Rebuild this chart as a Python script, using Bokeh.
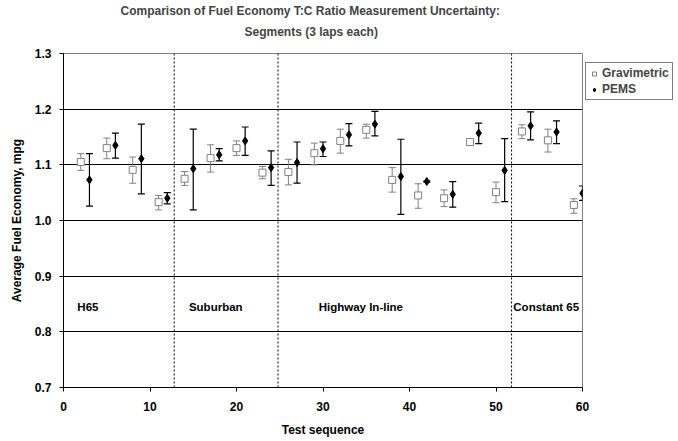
from bokeh.plotting import figure
from bokeh.models import (Range1d, FixedTicker, Span, Legend, LegendItem, Whisker,
                          ColumnDataSource, TeeHead, Label, NumeralTickFormatter, Title)
from bokeh.embed import file_html
from bokeh.resources import INLINE

FONT = "Liberation Sans"

# ---- data ----
grav_x = [2, 5, 8, 11, 14, 17, 20, 23, 26, 29, 32, 35, 38, 41, 44, 47, 50, 53, 56, 59]
grav_y = [1.105, 1.130, 1.091, 1.033, 1.075, 1.112, 1.130, 1.086, 1.087, 1.121,
          1.143, 1.163, 1.073, 1.045, 1.040, 1.141, 1.051, 1.160, 1.144, 1.028]
grav_lo = [1.090, 1.111, 1.067, 1.019, 1.063, 1.087, 1.117, 1.075, 1.064, 1.100,
           1.121, 1.148, 1.051, 1.022, 1.025, 1.136, 1.032, 1.147, 1.123, 1.013]
grav_hi = [1.120, 1.148, 1.114, 1.045, 1.088, 1.136, 1.143, 1.097, 1.110, 1.139,
           1.164, 1.173, 1.095, 1.066, 1.055, 1.145, 1.069, 1.172, 1.164, 1.039]

pems_x = [3, 6, 9, 12, 15, 18, 21, 24, 27, 30, 33, 36, 39, 42, 45, 48, 51, 54, 57, 60]
pems_y = [1.073, 1.135, 1.111, 1.040, 1.093, 1.118, 1.143, 1.095, 1.104, 1.129,
          1.154, 1.173, 1.079, 1.070, 1.047, 1.157, 1.090, 1.170, 1.159, 1.049]
pems_lo = [1.026, 1.112, 1.048, 1.030, 1.019, 1.107, 1.117, 1.063, 1.067, 1.115,
           1.134, 1.152, 1.011, 1.069, 1.024, 1.138, 1.034, 1.145, 1.138, 1.036]
pems_hi = [1.120, 1.157, 1.173, 1.050, 1.164, 1.129, 1.168, 1.125, 1.141, 1.141,
           1.174, 1.196, 1.146, 1.071, 1.070, 1.175, 1.147, 1.195, 1.179, 1.062]

dividers = [12.8, 24.8, 51.8]
segment_names = ["H65", "Suburban", "Highway In-line", "Constant 65"]
segment_label_x = [1.6, 14.5, 29.5, 52.0]
segment_label_y = 0.845

x_ticks = [0, 10, 20, 30, 40, 50, 60]
y_ticks = [0.7, 0.8, 0.9, 1.0, 1.1, 1.2, 1.3]

title_line1 = "Comparison of Fuel Economy T:C Ratio Measurement Uncertainty:"
title_line2 = "Segments (3 laps each)"

GRAY = "#808080"

p = figure(frame_width=519, frame_height=334, output_backend="svg", toolbar_location=None,
           x_range=Range1d(0, 60), y_range=Range1d(0.7, 1.3),
           min_border_left=63, min_border_right=96, min_border_top=53, min_border_bottom=54)

# title: line 1 is the figure title (outer), line 2 is added closer to the frame
p.title.text = title_line1
p.title.align = "left"
p.title.text_font = FONT
p.title.text_font_size = "12px"
p.title.text_font_style = "bold"
p.title.standoff = -20
p.title.offset = 57
p.add_layout(Title(text=title_line2, align="left", text_font=FONT,
                   text_font_size="12px", text_font_style="bold",
                   standoff=30, offset=181), "above")

p.background_fill_color = "white"
p.border_fill_color = "white"
p.outline_line_color = GRAY
p.outline_line_width = 1

# grid
p.xgrid.grid_line_color = None
p.ygrid.ticker = FixedTicker(ticks=y_ticks)
p.ygrid.grid_line_color = "black"
p.ygrid.grid_line_width = 1

# axes
p.xaxis.ticker = FixedTicker(ticks=x_ticks)
p.yaxis.ticker = FixedTicker(ticks=y_ticks)
p.yaxis.formatter = NumeralTickFormatter(format="0.0")
for ax in (p.xaxis, p.yaxis):
    ax.axis_line_color = "black"
    ax.major_tick_line_color = "black"
    ax.major_tick_out = 4
    ax.major_tick_in = 0
    ax.minor_tick_line_color = None
    ax.major_label_text_font = FONT
    ax.major_label_text_font_size = "12px"
    ax.major_label_text_font_style = "bold"
    ax.major_label_text_color = "black"
    ax.axis_label_text_font = FONT
    ax.axis_label_text_font_size = "12px"
    ax.axis_label_text_font_style = "bold"
    ax.axis_label_text_color = "black"
p.xaxis.axis_label = "Test sequence"
p.yaxis.axis_label = "Average Fuel Economy, mpg"
p.xaxis.major_label_standoff = 10
p.xaxis.axis_label_standoff = 9
p.yaxis.major_label_standoff = 8
p.yaxis.axis_label_standoff = 8

# dividers
for d in dividers:
    p.add_layout(Span(location=d, dimension="height", line_color="black",
                      line_width=1, line_dash="2 2"))

# error bars
gsrc = ColumnDataSource(dict(x=grav_x, y=grav_y, lo=grav_lo, hi=grav_hi))
psrc = ColumnDataSource(dict(x=pems_x, y=pems_y, lo=pems_lo, hi=pems_hi))

p.add_layout(Whisker(base="x", lower="lo", upper="hi", source=gsrc,
                     line_color=GRAY, line_width=1,
                     upper_head=TeeHead(size=7, line_color=GRAY, line_width=1),
                     lower_head=TeeHead(size=7, line_color=GRAY, line_width=1)))
p.add_layout(Whisker(base="x", lower="lo", upper="hi", source=psrc,
                     line_color="black", line_width=1.2,
                     upper_head=TeeHead(size=7, line_color="black", line_width=1.2),
                     lower_head=TeeHead(size=7, line_color="black", line_width=1.2)))

g_r = p.scatter("x", "y", source=gsrc, marker="square", size=7,
                fill_color="white", line_color=GRAY, line_width=1)
p_r = p.scatter("x", "y", source=psrc, marker="diamond", size=8,
                fill_color="black", line_color="black")

# segment labels
for name, lx in zip(segment_names, segment_label_x):
    p.add_layout(Label(x=lx, y=segment_label_y, text=name, text_font=FONT,
                       text_font_size="11.5px", text_font_style="bold",
                       text_baseline="middle", text_align="left", text_color="black"))

legend = Legend(items=[LegendItem(label="Gravimetric", renderers=[g_r]),
                       LegendItem(label="PEMS", renderers=[p_r])],
                location=(3, 287), margin=0, padding=3, spacing=2,
                label_text_font=FONT, label_text_font_size="12px",
                label_text_font_style="bold", label_standoff=3,
                glyph_width=10, glyph_height=13, label_height=13,
                border_line_color="black", border_line_width=1,
                background_fill_color="white")
p.add_layout(legend, "right")

open("out.html", "w").write(file_html(p, INLINE))
